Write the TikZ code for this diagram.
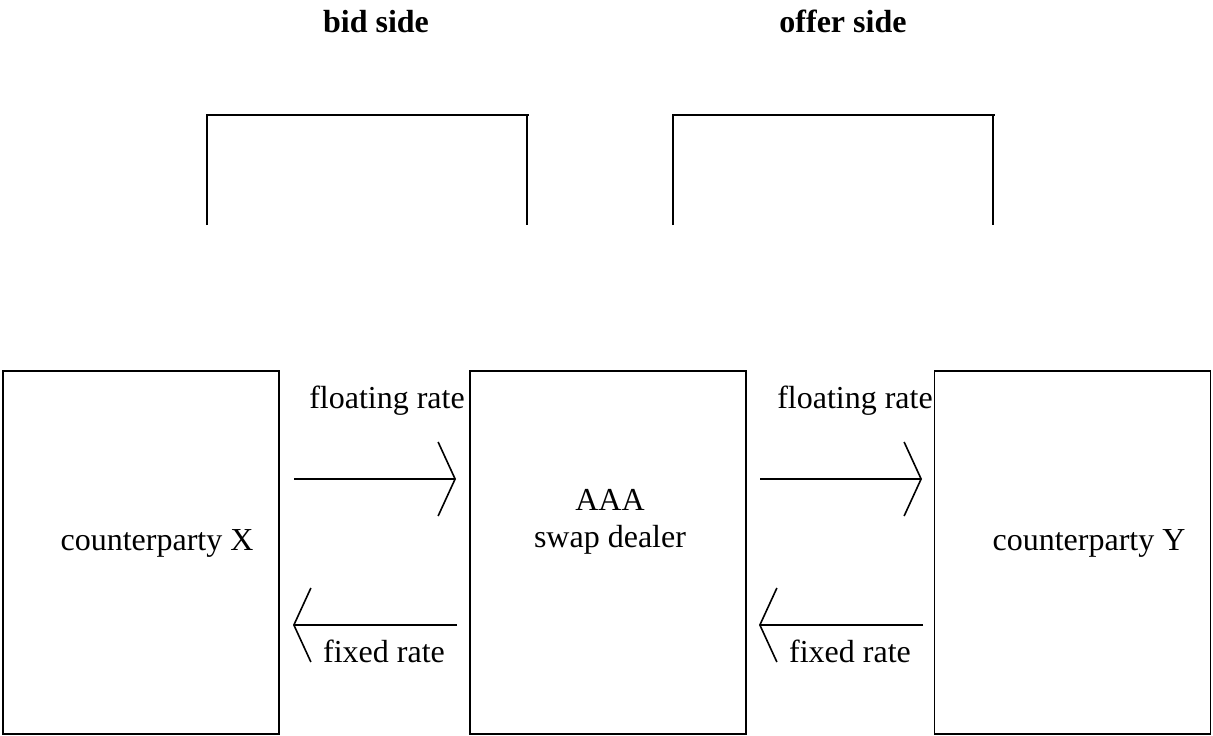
\documentclass[tikz,border=0pt]{standalone}
\usepackage{fontspec}
\setmainfont{Liberation Serif}
\usetikzlibrary{arrows.meta}
\begin{document}
\begin{tikzpicture}[x=1pt,y=-1pt,
  every node/.style={font=\fontsize{32}{37}\selectfont, inner sep=0pt},
  box/.style={draw, line width=1.6pt, minimum width=276pt, minimum height=363pt},
  lbl/.style={anchor=base},
  ttl/.style={anchor=base, font=\fontsize{32}{37}\selectfont\bfseries},
  flow/.style={line width=1.6pt, -{Straight Barb[length=17pt, width=74pt, line width=1.6pt]}},
  brk/.style={line width=1.6pt}]
\useasboundingbox (0,0) rectangle (1213,736);
% boxes
\node[box] (X) at (141,552.5) {};
\node[box] (D) at (608,552.5) {};
\node[box] (Y) at (1072.5,552.5) {};
% box texts
\node[lbl] (xt) at (157,550) {counterparty X};
\node[lbl] (aaa) at (610,510) {AAA};
\node[lbl] (sd) at (610,547) {swap dealer};
\node[lbl] (yt) at (1089,550) {counterparty Y};
% titles
\node[ttl] (bid) at (376,32) {bid side};
\node[ttl] (offer) at (843,32) {offer side};
% brackets
\coordinate (b1a) at (207,225);
\coordinate (b1b) at (207,115);
\coordinate (b1c) at (529,115);
\coordinate (b1t) at (527,115);
\coordinate (b1d) at (527,225);
\coordinate (b2a) at (673,225);
\coordinate (b2b) at (673,115);
\coordinate (b2c) at (995,115);
\coordinate (b2t) at (993,115);
\coordinate (b2d) at (993,225);
\draw[brk] (b1a) -- (b1b) -- (b1c);
\draw[brk] (b1t) -- (b1d);
\draw[brk] (b2a) -- (b2b) -- (b2c);
\draw[brk] (b2t) -- (b2d);
% arrows
\coordinate (f1s) at (294,479);
\coordinate (f1e) at (456,479);
\coordinate (f2s) at (760,479);
\coordinate (f2e) at (922,479);
\coordinate (r1s) at (457,625);
\coordinate (r1e) at (293,625);
\coordinate (r2s) at (923,625);
\coordinate (r2e) at (759,625);
\draw[flow] (f1s) -- (f1e);
\draw[flow] (f2s) -- (f2e);
\draw[flow] (r1s) -- (r1e);
\draw[flow] (r2s) -- (r2e);
% arrow labels
\node[lbl] (fl1) at (387,408) {floating rate};
\node[lbl] (fl2) at (855,408) {floating rate};
\node[lbl] (fx1) at (384,662) {fixed rate};
\node[lbl] (fx2) at (850,662) {fixed rate};
\end{tikzpicture}
\end{document}
